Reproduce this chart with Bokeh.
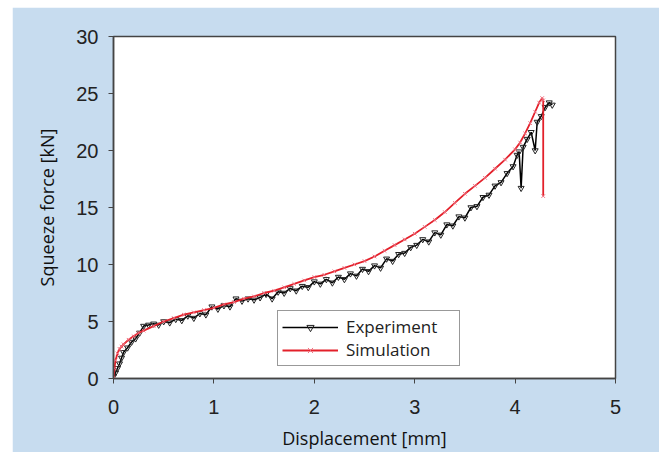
from bokeh.plotting import figure
from bokeh.models import Legend, LegendItem
from bokeh.embed import file_html
from bokeh.resources import INLINE

# Experiment (black, inverted triangles)
exp_x = [0.00, 0.02, 0.04, 0.06, 0.08, 0.10, 0.14, 0.18, 0.22, 0.26, 0.30, 0.35, 0.40, 0.45,
         0.50, 0.56, 0.62, 0.68, 0.74, 0.80, 0.86, 0.92, 0.98, 1.04, 1.10, 1.16, 1.22, 1.28,
         1.34, 1.40, 1.46, 1.52, 1.58, 1.64, 1.70, 1.76, 1.82, 1.88, 1.94, 2.00, 2.06, 2.12,
         2.18, 2.24, 2.30, 2.36, 2.42, 2.48, 2.54, 2.60, 2.66, 2.72, 2.78, 2.84, 2.90, 2.96,
         3.02, 3.08, 3.14, 3.20, 3.26, 3.32, 3.38, 3.44, 3.50, 3.56, 3.62, 3.68, 3.74, 3.80,
         3.86, 3.92, 3.98, 4.02, 4.04, 4.06, 4.08, 4.12, 4.16, 4.20, 4.22, 4.26, 4.30, 4.34, 4.37]
exp_y = [0.2, 0.5, 0.9, 1.3, 1.8, 2.3, 2.7, 3.2, 3.5, 4.0, 4.6, 4.7, 4.8, 4.7,
         5.0, 4.9, 5.2, 5.1, 5.5, 5.3, 5.7, 5.6, 6.3, 6.1, 6.4, 6.3, 7.0, 6.8,
         7.0, 6.9, 7.1, 7.4, 7.0, 7.6, 7.5, 7.9, 7.7, 8.1, 8.0, 8.5, 8.3, 8.7,
         8.4, 8.9, 8.7, 9.2, 9.0, 9.6, 9.4, 9.9, 9.7, 10.5, 10.3, 10.9, 11.0, 11.5,
         11.7, 12.2, 12.0, 12.8, 12.6, 13.5, 13.4, 14.2, 14.1, 15.0, 15.1, 15.9, 16.1, 16.9,
         17.2, 18.0, 18.6, 19.6, 19.9, 16.7, 20.3, 21.0, 21.6, 20.0, 22.5, 23.0, 23.8, 24.2, 24.0]

# Simulation (red, x markers)
sim_x = [0.00, 0.01, 0.02, 0.04, 0.06, 0.08, 0.10, 0.15, 0.20, 0.25, 0.30, 0.40, 0.50, 0.60,
         0.70, 0.80, 0.90, 1.00, 1.10, 1.20, 1.30, 1.40, 1.50, 1.60, 1.70, 1.80, 1.90, 2.00,
         2.10, 2.20, 2.30, 2.40, 2.50, 2.60, 2.70, 2.80, 2.90, 3.00, 3.10, 3.20, 3.30, 3.40,
         3.50, 3.60, 3.70, 3.80, 3.90, 4.00, 4.05, 4.10, 4.15, 4.20, 4.24, 4.27, 4.28, 4.28]
sim_y = [0.0, 0.9, 1.6, 2.2, 2.6, 2.8, 3.0, 3.4, 3.7, 4.0, 4.2, 4.6, 5.0, 5.3,
         5.6, 5.8, 6.0, 6.2, 6.5, 6.7, 7.0, 7.2, 7.5, 7.7, 8.0, 8.3, 8.6, 8.9,
         9.1, 9.4, 9.7, 10.0, 10.3, 10.7, 11.2, 11.7, 12.2, 12.7, 13.3, 13.9, 14.6, 15.4,
         16.2, 16.9, 17.6, 18.4, 19.2, 20.1, 20.7, 21.5, 22.4, 23.4, 24.2, 24.6, 24.4, 16.0]

x_ticks = [0, 1, 2, 3, 4, 5]
y_ticks = [0, 5, 10, 15, 20, 25, 30]

BG = "#c7dcef"

p = figure(width=647, height=445, x_range=(0, 5), y_range=(0, 30),
           output_backend="svg", toolbar_location=None,
           min_border_left=101, min_border_right=44, min_border_top=29, min_border_bottom=72)
p.margin = (7, 0, 0, 12)
p.border_fill_color = BG
p.background_fill_color = "white"
p.outline_line_color = "#444444"
p.outline_line_width = 1.5
p.xgrid.visible = False
p.ygrid.visible = False

for ax in (p.xaxis[0], p.yaxis[0]):
    ax.axis_line_color = "#444444"
    ax.axis_line_width = 1.5
    ax.major_tick_in = 0
    ax.major_tick_out = 5
    ax.major_tick_line_color = "#444444"
    ax.minor_tick_line_color = None
    ax.major_label_text_font = "Liberation Sans"
    ax.major_label_text_font_size = "20px"
    ax.major_label_text_color = "#222222"
    ax.axis_label_text_font = "Open Sans"
    ax.axis_label_text_font_size = "18px"
    ax.axis_label_text_font_style = "normal"
    ax.axis_label_text_color = "#111111"

p.xaxis.ticker = x_ticks
p.yaxis.ticker = y_ticks
p.xaxis.axis_label = "Displacement [mm]"
p.yaxis.axis_label = "Squeeze force [kN]"
p.xaxis.major_label_standoff = 16
p.yaxis.major_label_standoff = 10
p.xaxis.axis_label_standoff = 9
p.yaxis.axis_label_standoff = 14

e_line = p.line(exp_x, exp_y, line_color="black", line_width=1.5)
e_mark = p.scatter(exp_x, exp_y, marker="inverted_triangle", size=6,
                   line_color="#222222", fill_color="white", fill_alpha=0.0, line_width=1)
s_line = p.line(sim_x, sim_y, line_color="#e3202a", line_width=1.8)
s_mark = p.scatter(sim_x, sim_y, marker="x", size=5, line_color="#f07080", line_width=1)

legend = Legend(items=[LegendItem(label="Experiment", renderers=[e_line, e_mark]),
                       LegendItem(label="Simulation", renderers=[s_line, s_mark])],
                location=(164, 12))
legend.border_line_color = "#333333"
legend.border_line_width = 1.5
legend.background_fill_color = "white"
legend.background_fill_alpha = 1.0
legend.label_text_font = "Open Sans"
legend.label_text_font_size = "17px"
legend.label_text_color = "#222222"
legend.glyph_width = 56
legend.glyph_height = 18
legend.label_height = 18
legend.label_width = 109
legend.label_standoff = 8
legend.padding = 4
legend.spacing = 0
legend.margin = 0
p.add_layout(legend, "center")

open("out.html", "w").write(file_html(p, INLINE))
